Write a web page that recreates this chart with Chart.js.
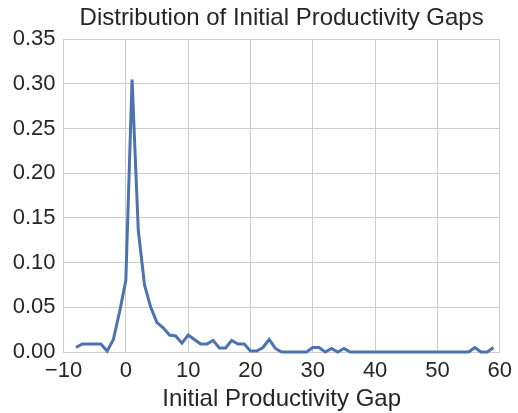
<!DOCTYPE html>
<html>
<head>
<meta charset="utf-8">
<script src="https://cdn.jsdelivr.net/npm/chart.js@4"></script>
<style>
html,body{margin:0;padding:0;background:#fff;}
#wrap{width:518px;height:413px;position:relative;}
</style>
</head>
<body>
<div id="wrap"><canvas id="c" width="518" height="413"></canvas></div>
<script>
const gapValues = [-8,-7,-6,-5,-4,-3,-2,-1,0,1,2,3,4,5,6,7,8,9,10,11,12,13,14,15,16,17,18,19,20,21,22,23,24,25,26,27,28,29,30,31,32,33,34,35,36,37,38,39,40,41,42,43,44,45,46,47,48,49,50,51,52,53,54,55,56,57,58,59];
const density = [0.005,0.009,0.009,0.009,0.009,0.001,0.014,0.045,0.080,0.305,0.136,0.075,0.050,0.033,0.027,0.019,0.018,0.010,0.019,0.014,0.009,0.009,0.013,0.0045,0.0045,0.013,0.009,0.009,0.001,0.001,0.005,0.014,0.004,0,0,0,0,0,0.005,0.005,0,0.004,0,0.004,0,0,0,0,0,0,0,0,0,0,0,0,0,0,0,0,0,0,0,0,0.005,0,0,0.005];
const xTicks = [-10,0,10,20,30,40,50,60];
const yTicks = [0,0.05,0.10,0.15,0.20,0.25,0.30,0.35];
const titleText = 'Distribution of Initial Productivity Gaps';
const xLabel = 'Initial Productivity Gap';

const points = gapValues.map((x,i)=>({x:x,y:density[i]}));
const FONT = "'Liberation Sans', Arial, sans-serif";
const TXT = '#262626';
const GRID = '#cccccc';

new Chart(document.getElementById('c'), {
  type: 'line',
  data: { datasets: [{ data: points, borderColor:'#4c72b0', borderWidth:3, pointRadius:0, tension:0, fill:false, clip:false }] },
  options: {
    responsive:false, animation:false, devicePixelRatio:1,
    layout:{ padding:{ left:0, right:16, top:0, bottom:0 } },
    plugins:{
      legend:{display:false}, tooltip:{enabled:false},
      title:{ display:true, fullSize:false, text:titleText, color:TXT, font:{family:FONT,size:24,weight:'normal',lineHeight:1.2}, padding:{top:3.5,bottom:7} }
    },
    scales:{
      x:{ type:'linear', min:-10, max:60,
        afterBuildTicks:(s)=>{ s.ticks = xTicks.map(v=>({value:v})); },
        afterFit:(s)=>{ s.height = 61; },
        grid:{ color:GRID, lineWidth:1, drawTicks:false },
        border:{ color:GRID, width:1 },
        ticks:{ color:TXT, font:{family:FONT,size:22}, padding:6, maxRotation:0,
          callback:(v)=> (v<0 ? '\u2212'+Math.abs(v) : String(v)) },
        title:{ display:true, text:xLabel, color:TXT, font:{family:FONT,size:24}, padding:{top:0,bottom:-1} }
      },
      y:{ type:'linear', min:0, max:0.35,
        afterBuildTicks:(s)=>{ s.ticks = yTicks.map(v=>({value:v})); },
        afterFit:(s)=>{ s.width = 63.5; },
        grid:{ color:GRID, lineWidth:1, drawTicks:false },
        border:{ color:GRID, width:1 },
        ticks:{ color:TXT, font:{family:FONT,size:22}, padding:8, callback:(v)=>v.toFixed(2) }
      }
    }
  }
});
</script>
</body>
</html>
